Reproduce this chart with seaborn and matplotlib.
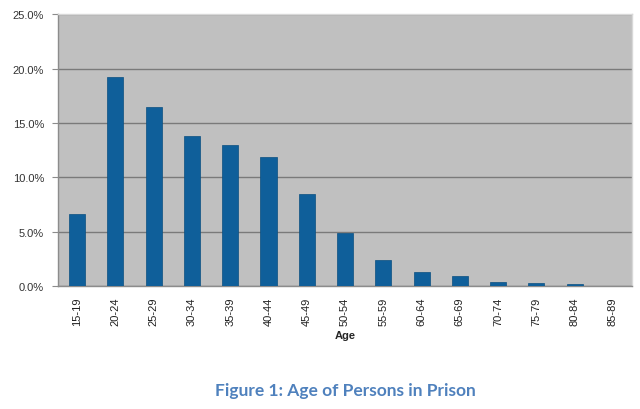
import numpy as np
import pandas as pd
import matplotlib
matplotlib.use('Agg')
import matplotlib.pyplot as plt
import seaborn as sns
from matplotlib.ticker import PercentFormatter, FixedLocator

# veri (grafikten okunan yüzdeler)
age_groups = ['15-19', '20-24', '25-29', '30-34', '35-39', '40-44', '45-49', '50-54',
              '55-59', '60-64', '65-69', '70-74', '75-79', '80-84', '85-89']
share_pct = [6.6, 19.2, 16.5, 13.8, 13.0, 11.9, 8.5, 4.9,
             2.4, 1.3, 0.95, 0.35, 0.25, 0.15, 0.02]

df = pd.DataFrame({'age': age_groups, 'share': share_pct})

sns.set_style('white')
plt.rcParams['font.family'] = ['Liberation Sans', 'DejaVu Sans']

fig = plt.figure(figsize=(6.4, 4.1), dpi=100)
ax = fig.add_axes([0.0906, 0.30, 0.897, 0.663])

sns.barplot(data=df, x='age', y='share', color='#0F5F9A', saturation=1,
            width=0.42, edgecolor='#0B4F80', linewidth=0.5, ax=ax, zorder=3)

ax.set_facecolor('#C0C0C0')
ax.set_ylim(0, 25)
ax.set_xlim(-0.5, len(age_groups) - 0.5)
ax.yaxis.set_major_formatter(PercentFormatter(decimals=1))
ax.set_yticks(np.arange(0, 26, 5))
ax.grid(axis='y', color='#7A7A7A', linewidth=1, zorder=1)
ax.set_axisbelow(True)

for s in ['left', 'bottom']:
    ax.spines[s].set_color('#8C8C8C')
    ax.spines[s].set_linewidth(1)
for s in ['top', 'right']:
    ax.spines[s].set_color('#D8D8D8')
    ax.spines[s].set_linewidth(1)

# etiketler ve çentikler
ax.tick_params(axis='x', which='major', length=0, labelsize=8, rotation=90,
               colors='#222222', pad=7.5)
ax.xaxis.set_minor_locator(FixedLocator(np.arange(-0.5, len(age_groups), 1)))
ax.tick_params(axis='x', which='minor', length=4, color='#8C8C8C', width=1)
ax.tick_params(axis='y', which='major', length=4, labelsize=8, colors='#333333',
               left=True, color='#8C8C8C', pad=6)

ax.set_xlabel('Age', fontsize=8, fontweight='bold', labelpad=4)
ax.set_ylabel('')

fig.text(0.539, 0.046, 'Figure 1: Age of Persons in Prison', ha='center', va='center',
         fontsize=12.5, fontweight='bold', color='#4F81BD', family=['Lato', 'DejaVu Sans'])

fig.savefig('out.png', dpi=100, facecolor='white')
